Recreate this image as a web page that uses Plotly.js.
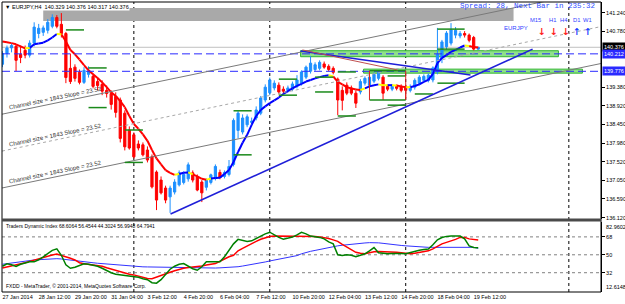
<!DOCTYPE html>
<html><head><meta charset="utf-8">
<script src="https://cdn.plot.ly/plotly-3.0.1.min.js"></script>
<style>html,body{margin:0;padding:0;background:#fff}#chart{width:625px;height:304px}</style>
</head><body><div id="chart"></div>
<script>
// ---------- data ----------
const tickBars = [0,8,16,24,32,40,48,56,64,72,80,88,96,104];
const tickLabels = ['27 Jan 2014','28 Jan 12:00','29 Jan 20:00','31 Jan 04:00','3 Feb 12:00','4 Feb 20:00','6 Feb 04:00','7 Feb 12:00','10 Feb 20:00','12 Feb 04:00','13 Feb 12:00','14 Feb 20:00','18 Feb 04:00','19 Feb 12:00'];

const open = [139.95,140.22,140.36,140.40,140.20,140.30,140.18,140.48,140.72,140.75,140.80,140.90,141.12,140.95,140.72,139.85,139.88,139.75,139.50,139.70,139.65,139.52,139.45,139.30,139.22,139.15,139.06,138.73,138.31,138.19,137.96,137.94,137.81,137.64,137.26,137.06,136.86,136.64,136.76,136.94,137.00,137.09,137.24,137.14,137.01,136.88,137.00,137.10,137.25,137.15,137.20,137.45,138.30,138.26,138.44,138.50,138.61,138.73,139.06,139.24,139.36,139.43,139.33,139.30,139.33,139.40,139.48,139.63,139.78,139.82,139.85,139.96,139.90,139.85,139.58,139.30,139.43,139.36,139.23,139.26,139.48,139.43,139.53,139.60,139.63,139.40,139.33,139.40,139.40,139.40,139.30,139.38,139.48,139.55,139.55,139.56,139.76,140.10,140.39,140.48,140.68,140.66,140.72,140.68,140.62,140.329];
const high = [140.28,140.42,140.48,140.45,140.42,140.42,140.55,141.00,140.96,140.92,141.08,141.20,141.18,141.23,140.76,140.22,139.95,139.82,139.88,139.90,139.72,139.62,139.55,139.42,139.30,139.25,139.12,138.80,138.40,138.25,138.05,138.00,137.90,137.70,137.30,137.15,136.92,136.92,137.08,137.30,137.28,137.50,137.30,137.20,137.06,137.10,137.22,137.45,137.32,137.30,137.56,138.60,138.78,138.70,138.70,138.62,138.90,139.16,139.45,139.62,139.55,139.50,139.40,139.42,139.52,139.68,139.80,139.92,140.16,140.00,140.05,140.02,139.95,139.90,139.62,139.40,139.50,139.42,139.30,139.58,139.65,139.68,139.75,139.80,139.68,139.45,139.46,139.45,139.45,139.44,139.45,139.60,139.68,139.70,139.72,139.90,140.86,140.56,140.78,140.98,140.88,140.78,140.78,140.72,140.66,140.376];
const low = [139.88,140.12,140.25,139.78,139.98,140.10,140.12,140.40,140.60,140.66,140.72,140.85,140.85,140.62,139.48,139.46,139.52,139.45,139.46,139.62,139.35,139.30,139.18,139.12,138.82,138.62,138.00,137.80,137.82,137.60,137.80,137.65,137.50,136.85,136.31,136.70,136.48,136.24,136.70,136.90,136.95,137.02,137.00,136.78,136.51,136.80,136.95,137.05,137.08,137.10,137.15,137.40,138.10,138.20,138.38,138.42,138.55,138.68,139.00,139.18,139.30,139.20,139.22,139.25,139.28,139.35,139.42,139.58,139.72,139.78,139.80,139.84,139.78,139.70,138.68,138.80,139.18,139.18,138.86,139.20,139.42,139.38,139.48,139.55,139.06,139.28,139.28,139.30,139.25,139.10,139.25,139.32,139.42,139.50,139.50,139.50,139.70,139.98,140.32,140.42,140.60,140.60,140.62,140.50,140.30,140.317];
const close = [140.22,140.36,140.42,140.05,140.12,140.18,140.48,140.88,140.85,140.86,141.00,141.12,140.90,140.72,139.62,139.52,139.60,139.50,139.80,139.78,139.40,139.42,139.28,139.22,138.95,138.75,138.10,137.89,137.86,137.64,137.86,137.69,137.56,136.89,136.56,136.74,136.56,136.86,137.01,137.24,137.20,137.44,137.06,136.81,136.74,137.06,137.19,137.40,137.13,137.25,137.40,138.55,138.73,138.61,138.64,138.53,138.81,139.11,139.38,139.56,139.48,139.26,139.28,139.36,139.46,139.56,139.76,139.88,139.98,139.94,140.00,139.88,139.82,139.75,139.06,139.05,139.23,139.23,138.98,139.52,139.60,139.63,139.70,139.75,139.23,139.33,139.40,139.35,139.30,139.30,139.40,139.55,139.63,139.65,139.68,139.86,140.20,140.51,140.73,140.81,140.80,140.72,140.68,140.55,140.33,140.376];

const maLine = [140.52,140.50,140.48,140.45,140.40,140.35,140.36,140.45,140.47,140.49,140.55,140.62,140.71,140.70,140.52,140.31,140.20,140.07,139.93,139.80,139.70,139.61,139.50,139.38,139.25,139.16,139.03,138.88,138.66,138.46,138.34,138.20,138.04,137.81,137.60,137.45,137.31,137.24,137.19,137.21,137.24,137.25,137.20,137.15,137.09,137.07,137.10,137.11,137.12,137.21,137.31,137.51,137.76,137.99,138.19,138.44,138.66,138.81,138.90,138.98,139.05,139.12,139.21,139.28,139.35,139.41,139.46,139.52,139.56,139.60,139.63,139.66,139.68,139.65,139.51,139.45,139.38,139.35,139.32,139.31,139.35,139.40,139.43,139.45,139.43,139.43,139.43,139.42,139.40,139.38,139.38,139.41,139.45,139.51,139.56,139.71,139.98,140.11,140.18,140.26,140.31,140.37,140.42,140.41,140.38,140.37];

const tdiGreen = [38.5,41.0,40.0,38.2,40.5,42.0,42.9,42.9,45.0,48.0,51.5,54.5,56.0,49.5,40.0,36.5,37.5,39.5,41.0,40.5,39.8,38.5,36.5,34.0,32.0,30.5,30.0,29.0,28.8,28.5,27.5,26.0,25.0,22.0,21.5,25.0,30.0,35.5,38.5,40.5,41.2,38.5,36.0,34.5,38.0,42.9,43.0,42.9,42.9,48.0,54.0,61.0,65.5,64.5,63.3,64.0,66.5,68.8,71.0,72.7,70.0,67.5,65.6,66.8,67.8,70.0,72.5,71.0,68.8,68.2,67.5,66.0,63.0,61.0,50.0,49.3,50.0,49.5,48.0,49.5,51.0,54.0,57.3,52.0,51.2,51.0,51.4,51.7,51.3,51.0,52.3,53.5,54.5,55.3,55.8,60.0,65.0,67.3,68.5,68.8,68.8,68.8,66.0,59.0,57.3,57.0];
const tdiRed = [36.8,37.8,38.8,39.6,40.8,42.0,43.4,44.8,46.0,47.2,48.5,49.8,50.8,49.5,47.8,46.5,44.8,42.0,41.0,40.5,40.0,39.7,38.5,37.0,35.6,34.7,33.3,32.0,30.5,29.8,28.7,27.5,26.2,26.0,27.8,29.5,31.2,32.5,34.0,35.5,36.4,37.2,37.6,38.0,38.8,39.8,40.6,41.2,43.5,46.0,48.0,49.5,54.0,56.5,59.0,61.0,63.5,65.6,67.0,68.3,68.8,68.8,68.8,68.8,68.8,68.8,68.8,68.8,68.6,68.3,68.0,67.5,66.3,65.0,63.5,60.5,58.0,55.5,52.5,51.5,51.0,52.0,53.0,53.2,53.2,53.2,53.0,52.6,52.0,51.3,51.0,51.6,52.4,53.3,54.0,56.0,58.5,61.0,62.5,63.8,65.5,67.5,67.5,66.0,65.6,64.8];
const tdiBlue = [40.5,41.2,41.9,42.6,43.3,43.9,44.4,44.8,45.1,45.5,45.8,46.0,46.1,45.8,45.2,44.5,43.8,43.1,42.8,42.4,42.0,41.5,41.1,40.6,40.1,39.7,39.4,39.0,38.7,38.3,38.0,37.9,37.8,37.7,37.6,37.5,37.4,37.3,37.2,37.1,37.0,36.8,36.6,36.5,36.4,36.4,36.5,36.7,36.9,37.1,37.3,37.5,38.0,38.7,39.4,40.2,41.0,41.9,42.8,43.8,44.6,45.4,46.2,47.0,48.0,49.2,51.0,52.6,53.5,54.4,55.4,56.4,57.3,58.2,59.0,59.6,60.2,60.7,61.1,61.5,61.9,62.2,62.3,62.0,61.5,60.8,60.3,59.9,59.4,59.0,58.6,58.2,57.8,57.5,57.5,57.5,57.5,57.5,57.5,57.5,57.5,57.5,57.5,57.5,57.5,56.5];
const tdiLevels = [32, 50, 68];
const tdiMin = 12.6148, tdiMax = 82.9602;

const priceTicks = [141.240,140.780,139.380,138.920,138.450,137.980,137.520,137.050,136.590,136.120];
const bidPrice = 140.376;
const dashLevels = [140.212, 139.776];
const periodSeparators = [29, 59, 89, 125];

const channelStart = [138.707, 137.786, 136.864];
const channelSlope = 0.02352;
const channelText = 'Channel size = 1843 Slope = 23.52';

const blueTrends = [[37.1,136.21,117,140.33],[65.8,140.283,103.3,139.684]];
const redTrends = [[66.2,140.31,87.2,139.81]];
const greyZones = [[9.0,112.8,141.03,141.36]];
const greenZones = [[65.8,122.7,140.14,140.29],[79.7,128.0,139.73,139.83]];
const rangeLines = [[14,18,140.81],[19,23,139.86],[19,23,138.87],[27,31,138.31],[27,31,137.50],[51,55,138.79],[51,55,137.69],[61,65,139.58],[61,65,139.18],[69,73,139.63],[69,73,139.26],[74,78,139.76],[74,78,138.66],[81,89,139.79],[81,89,139.06],[85,89,139.66],[85,89,138.93],[91,95,139.21],[96,102,140.83],[96,102,140.33],[96,102,139.48]];
const rangeSides = [[81,139.06,139.79],[89,139.06,139.79]];

// ---------- build ----------
const xs = close.map((_, i) => i);
const X0 = -0.1, X1 = 132.1;
const traces = [];
traces.push({type:'candlestick', x:xs, open:open, high:high, low:low, close:close, xaxis:'x', yaxis:'y',
  increasing:{line:{color:'#1e90ff', width:1}, fillcolor:'#1e90ff'},
  decreasing:{line:{color:'#ff0000', width:1}, fillcolor:'#ff0000'},
  whiskerwidth:0, hoverinfo:'skip', showlegend:false});

const maSeg = {red:{x:[],y:[]}, blue:{x:[],y:[]}, yellow:{x:[],y:[]}};
let prevDir = null;
for (let i = 0; i < maLine.length - 1; i++) {
  const dir = maLine[i+1] >= maLine[i] ? 1 : -1;
  let c = dir > 0 ? 'blue' : 'red';
  if (prevDir !== null && dir !== prevDir) c = 'yellow';
  prevDir = dir;
  maSeg[c].x.push(i, i+1, null); maSeg[c].y.push(maLine[i], maLine[i+1], null);
}
const maCol = {red:'#ff0000', blue:'#0000ff', yellow:'#ffff00'};
['red','blue','yellow'].forEach(k => traces.push({type:'scatter', mode:'lines', x:maSeg[k].x, y:maSeg[k].y,
  xaxis:'x', yaxis:'y', line:{color:maCol[k], width:2}, hoverinfo:'skip', showlegend:false, connectgaps:false}));

traces.push({type:'scatter', mode:'lines', x:xs, y:tdiBlue, xaxis:'x', yaxis:'y2', line:{color:'#3333ff', width:1}, hoverinfo:'skip', showlegend:false});
traces.push({type:'scatter', mode:'lines', x:xs, y:tdiRed, xaxis:'x', yaxis:'y2', line:{color:'#ff0000', width:1.5}, hoverinfo:'skip', showlegend:false});
traces.push({type:'scatter', mode:'lines', x:xs, y:tdiGreen, xaxis:'x', yaxis:'y2', line:{color:'#008000', width:1.5}, hoverinfo:'skip', showlegend:false});

const SEP = 0.2483;
const shapes = [];
periodSeparators.forEach(b => shapes.push({type:'line', xref:'x', yref:'paper', x0:b, x1:b, y0:0, y1:1, line:{color:'#000', width:1, dash:'dot'}, layer:'below'}));
greyZones.forEach(z => shapes.push({type:'rect', xref:'x', yref:'y', x0:z[0], x1:z[1], y0:z[2], y1:z[3], fillcolor:'#a9a9a9', line:{width:0}, layer:'below'}));
greenZones.forEach(z => shapes.push({type:'rect', xref:'x', yref:'y', x0:z[0], x1:z[1], y0:z[2], y1:z[3], fillcolor:'#8fe08a', line:{color:'#2fb52f', width:1}, layer:'below'}));
shapes.push({type:'line', xref:'paper', yref:'y', x0:0, x1:1, y0:bidPrice, y1:bidPrice, line:{color:'#c0c0c0', width:1}, layer:'below'});
dashLevels.forEach(p => shapes.push({type:'line', xref:'paper', yref:'y', x0:0, x1:1, y0:p, y1:p, line:{color:'#2a2aff', width:1, dash:'8px,4px'}}));
const chStyles = [{color:'#7a7a7a', width:1}, {color:'#a8a8a8', width:1, dash:'dot'}, {color:'#7a7a7a', width:1}];
channelStart.forEach((s, k) => shapes.push({type:'line', xref:'x', yref:'y', x0:X0, x1:X1,
  y0:s + channelSlope*X0, y1:s + channelSlope*X1, line:chStyles[k]}));
rangeLines.forEach(r => shapes.push({type:'line', xref:'x', yref:'y', x0:r[0], x1:r[1], y0:r[2], y1:r[2], line:{color:'#1a8a1a', width:1.5}}));
rangeSides.forEach(r => shapes.push({type:'line', xref:'x', yref:'y', x0:r[0], x1:r[0], y0:r[1], y1:r[2], line:{color:'#dd2222', width:1}}));
blueTrends.forEach(t => shapes.push({type:'line', xref:'x', yref:'y', x0:t[0], y0:t[1], x1:t[2], y1:t[3], line:{color:'#1f1fd8', width:1.6}}));
redTrends.forEach(t => shapes.push({type:'line', xref:'x', yref:'y', x0:t[0], y0:t[1], x1:t[2], y1:t[3], line:{color:'#c05050', width:1}}));
tdiLevels.forEach(v => shapes.push({type:'line', xref:'paper', yref:'y2', x0:0, x1:1, y0:v, y1:v, line:{color:'#808080', width:1, dash:'dot'}, layer:'below'}));
shapes.push({type:'rect', xref:'paper', yref:'paper', x0:0, x1:1, y0:0, y1:1, line:{color:'#000', width:1}});
shapes.push({type:'line', xref:'paper', yref:'paper', x0:0, x1:1, y0:SEP, y1:SEP, line:{color:'#4a4a4a', width:3}});

const F = 'Liberation Sans, Arial, sans-serif';
const ann = [];
ann.push({xref:'paper', yref:'paper', x:0, y:1, xanchor:'left', yanchor:'top', xshift:2, yshift:-1, showarrow:false,
  text:'▼ EURJPY,H4  140.329 140.376 140.317 140.376', font:{family:F, size:5.5, color:'#000'}, bgcolor:'#fff', borderpad:0});
ann.push({xref:'paper', yref:'paper', x:0.761, y:0.986, xanchor:'left', yanchor:'middle', showarrow:false,
  text:'Spread: 28, Next Bar in 235:32', font:{family:'Liberation Mono, monospace', size:7.5, color:'#3350ff'}});
const tfLabels = ['M15','H1','H4','D1','W1'];
const tfX = [0.903,0.9285,0.9485,0.968,0.988];
const tfArrows = ['↓','↓','↓','↑','↑'];
const tfArrowCol = ['#ff2020','#ff2020','#ff2020','#2040ff','#2040ff'];
const tfArrowX = [0.9115,0.9316,0.9516,0.970,0.989];
tfLabels.forEach((t, i) => ann.push({xref:'paper', yref:'paper', x:tfX[i], y:0.955, showarrow:false, text:t, font:{family:F, size:5.8, color:'#3344ff'}}));
tfArrows.forEach((t, i) => ann.push({xref:'paper', yref:'paper', x:tfArrowX[i], y:0.925, showarrow:false, text:'<b>'+t+'</b>', font:{family:'DejaVu Sans', size:9.5, color:tfArrowCol[i]}}));
ann.push({xref:'paper', yref:'paper', x:0.8815, y:0.927, showarrow:false, text:'EURJPY', font:{family:F, size:6, color:'#3344ff'}});
ann.push({xref:'paper', yref:'paper', x:0, y:0.228, xanchor:'left', yanchor:'middle', xshift:2, showarrow:false,
  text:'Traders Dynamic Index 68.6064 56.4544 44.3024 56.9948 64.7941', font:{family:F, size:5, color:'#000'}});
ann.push({xref:'paper', yref:'paper', x:0, y:0.02, xanchor:'left', yanchor:'middle', xshift:2, showarrow:false,
  text:'FXDD - MetaTrader, © 2001-2014, MetaQuotes Software Corp.', font:{family:F, size:5, color:'#000'}});
const chLabelBar = 11.7;
channelStart.forEach(s => ann.push({xref:'x', yref:'y', x:chLabelBar, y:s + channelSlope*chLabelBar + 0.13, showarrow:false,
  text:channelText, textangle:-11.7, font:{family:F, size:6, color:'#303030'}}));
ann.push({xref:'paper', yref:'y', x:1, y:bidPrice, xanchor:'left', yanchor:'middle', xshift:1, showarrow:false,
  text:bidPrice.toFixed(3), font:{family:F, size:5.5, color:'#fff'}, bgcolor:'#000', borderpad:1});
dashLevels.forEach(p => ann.push({xref:'paper', yref:'y', x:1, y:p, xanchor:'left', yanchor:'middle', xshift:1, showarrow:false,
  text:p.toFixed(3), font:{family:F, size:5.5, color:'#fff'}, bgcolor:'#2a2aff', borderpad:1}));
ann.push({xref:'paper', yref:'y2', x:1, y:tdiMax, xanchor:'left', yanchor:'top', xshift:3, showarrow:false,
  text:String(tdiMax), font:{family:F, size:5.5, color:'#000'}});
ann.push({xref:'paper', yref:'y2', x:1, y:tdiMin, xanchor:'left', yanchor:'bottom', xshift:3, showarrow:false,
  text:String(tdiMin), font:{family:F, size:5.5, color:'#000'}});

const layout = {
  width:625, height:304, margin:{l:2, r:24, t:2, b:12}, paper_bgcolor:'#fff', plot_bgcolor:'#fff', showlegend:false,
  xaxis:{anchor:'y2', range:[X0, X1], tickvals:tickBars, ticktext:tickLabels, ticks:'', tickangle:0, showgrid:false, zeroline:false,
    showline:false, rangeslider:{visible:false}, ticklabelposition:'outside right', ticklabelstandoff:0,
    tickfont:{family:F, size:5.5, color:'#000'}, automargin:false},
  yaxis:{domain:[0.2517, 1], range:[136.087, 141.507], side:'right', anchor:'x', tickvals:priceTicks,
    ticktext:priceTicks.map(v => v.toFixed(3)), ticks:'outside', ticklen:3, tickcolor:'#000', showline:true, linecolor:'#000',
    showgrid:false, zeroline:false, tickfont:{family:F, size:5.5, color:'#000'}, automargin:false},
  yaxis2:{domain:[0, 0.2414], range:[tdiMin, tdiMax], side:'right', anchor:'x', tickvals:tdiLevels, ticktext:tdiLevels.map(String),
    ticks:'outside', ticklen:3, tickcolor:'#000', showline:true, linecolor:'#000', showgrid:false, zeroline:false,
    tickfont:{family:F, size:5.5, color:'#000'}, automargin:false},
  shapes:shapes, annotations:ann
};
Plotly.newPlot('chart', traces, layout, {staticPlot:true, displayModeBar:false});
</script></body></html>
